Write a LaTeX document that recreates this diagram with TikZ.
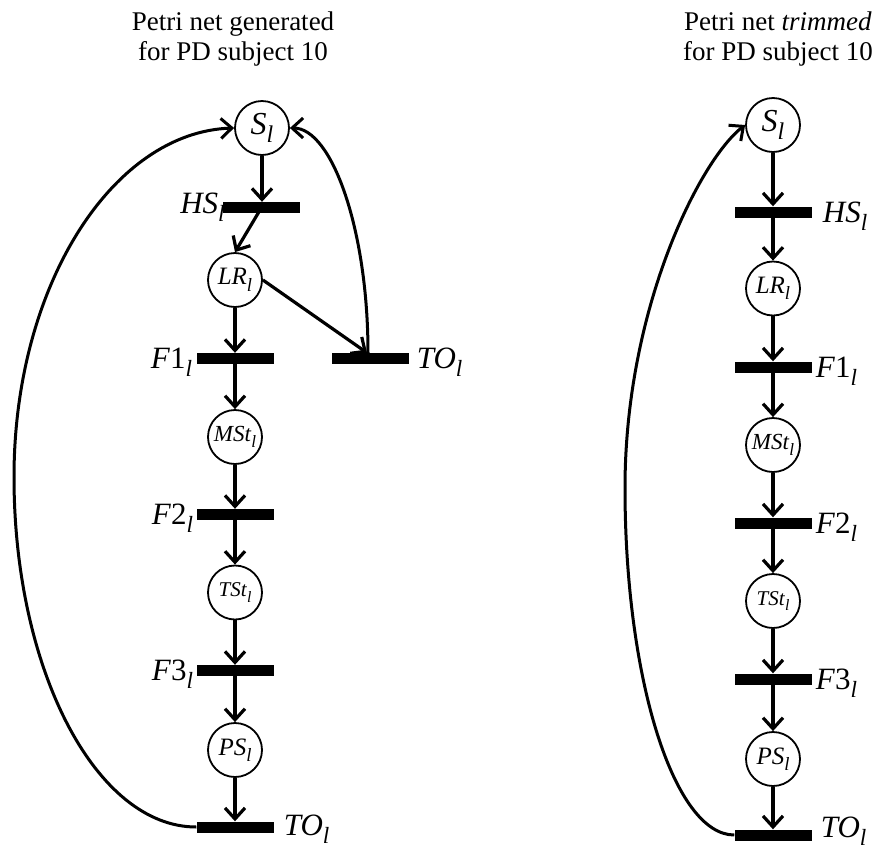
\documentclass[tikz,border=0pt]{standalone}
\usepackage{fontspec}
\usepackage{graphicx}
\setmainfont{Liberation Serif}
\usetikzlibrary{arrows.meta,calc}

% italic subscript l used in every label
\newcommand{\lsub}{\raisebox{-0.26em}{\scalebox{0.75}{\itshape l}}}

\tikzset{
  place/.style={circle, draw, line width=1.8pt, minimum size=54pt, inner sep=0pt},
  tbar/.style={rectangle, fill=black, minimum width=77pt, minimum height=11pt, inner sep=0pt},
  arc/.style={line width=3.2pt, -{Straight Barb[length=11pt,width=20pt]}},
  loop/.style={line width=3pt, -{Straight Barb[length=11pt,width=20pt]}},
  tlabel/.style={font=\fontsize{31}{32}\selectfont, inner sep=0pt},
  title/.style={font=\fontsize{27}{30}\selectfont, align=center, inner sep=0pt},
}

\begin{document}
\begin{tikzpicture}[x=1pt, y=-1pt]
\useasboundingbox (0,0) rectangle (879,852);

% ---------- headings ----------
\node[title, anchor=base] (t1) at (233,60) {Petri net generated\\for PD subject 10};
\node[title, anchor=base] (t2) at (778,60) {Petri net \textit{trimmed}\\for PD subject 10};

% ---------- generated net ----------
\node[place, font=\fontsize{32}{32}\selectfont] (S1) at (262,128) {\textit{S}\lsub};
\node[tbar] (HS1) at (261.5,207.5) {};
\node[place, font=\fontsize{25}{25}\selectfont] (LR1) at (235,280) {\textit{LR}\lsub};
\node[tbar] (F1a) at (235,358.5) {};
\node[tbar] (TOa) at (370,358.5) {};
\node[place, font=\fontsize{23}{23}\selectfont] (MS1) at (235,437) {\textit{MSt}\lsub};
\node[tbar] (F2a) at (235,514.5) {};
\node[place, font=\fontsize{21}{21}\selectfont] (TS1) at (235,592.5) {\textit{TSt}\lsub};
\node[tbar] (F3a) at (235,670.5) {};
\node[place, font=\fontsize{25}{25}\selectfont] (PS1) at (235,750) {\textit{PS}\lsub};
\node[tbar] (TO1) at (235,827) {};

\node[tlabel, anchor=base east] (lHS1) at ($(HS1.west)+(2,6)$) {\textit{HS}\lsub};
\node[tlabel, anchor=base east] (lF1a) at ($(F1a.west)+(-4,10)$) {\textit{F}1\lsub};
\node[tlabel, anchor=base west] (lTOa) at ($(TOa.east)+(8,10)$) {\textit{TO}\lsub};
\node[tlabel, anchor=base east] (lF2a) at ($(F2a.west)+(-3,10)$) {\textit{F}2\lsub};
\node[tlabel, anchor=base east] (lF3a) at ($(F3a.west)+(-3,10)$) {\textit{F}3\lsub};
\node[tlabel, anchor=base west] (lTO1) at ($(TO1.east)+(10,8)$) {\textit{TO}\lsub};

\draw[arc] (S1.south) -- (S1.south |- HS1.north);
\draw[arc] (HS1.center) -- (LR1.north);
\draw[arc] (LR1.south) -- (F1a.north);
\draw[arc] (LR1.east) -- ([xshift=-3pt]TOa.north);
\draw[arc] (F1a.center) -- (MS1.north);
\draw[arc] (MS1.south) -- (F2a.north);
\draw[arc] (F2a.center) -- (TS1.north);
\draw[arc] (TS1.south) -- (F3a.north);
\draw[arc] (F3a.center) -- (PS1.north);
\draw[arc] (PS1.south) -- (TO1.north);

\coordinate (lb) at (14,477);
\draw[loop] (TO1.west) .. controls (96,827) and (14,670) .. (lb)
            .. controls (14,285) and (113,132) .. (S1.west);
\draw[loop] ([xshift=-2pt]TOa.north) .. controls (368,230) and (332,128) .. (S1.east);

% ---------- trimmed net ----------
\node[place, font=\fontsize{32}{32}\selectfont] (S2) at (773,125) {\textit{S}\lsub};
\node[tbar] (HS2) at (773,212) {};
\node[place, font=\fontsize{25}{25}\selectfont] (LR2) at (773,288.5) {\textit{LR}\lsub};
\node[tbar] (F1b) at (773,367) {};
\node[place, font=\fontsize{23}{23}\selectfont] (MS2) at (773,445) {\textit{MSt}\lsub};
\node[tbar] (F2b) at (773,523) {};
\node[place, font=\fontsize{21}{21}\selectfont] (TS2) at (773,601) {\textit{TSt}\lsub};
\node[tbar] (F3b) at (773,679) {};
\node[place, font=\fontsize{25}{25}\selectfont] (PS2) at (773,759) {\textit{PS}\lsub};
\node[tbar] (TO2) at (773,835) {};

\node[tlabel, anchor=base west] (lHS2) at ($(HS2.east)+(11,10)$) {\textit{HS}\lsub};
\node[tlabel, anchor=base west] (lF1b) at ($(F1b.east)+(4,10)$) {\textit{F}1\lsub};
\node[tlabel, anchor=base west] (lF2b) at ($(F2b.east)+(4,10)$) {\textit{F}2\lsub};
\node[tlabel, anchor=base west] (lF3b) at ($(F3b.east)+(4,10)$) {\textit{F}3\lsub};
\node[tlabel, anchor=base west] (lTO2) at ($(TO2.east)+(9,2)$) {\textit{TO}\lsub};

\draw[arc] (S2.south) -- (HS2.north);
\draw[arc] (HS2.center) -- (LR2.north);
\draw[arc] (LR2.south) -- (F1b.north);
\draw[arc] (F1b.center) -- (MS2.north);
\draw[arc] (MS2.south) -- (F2b.north);
\draw[arc] (F2b.center) -- (TS2.north);
\draw[arc] (TS2.south) -- (F3b.north);
\draw[arc] (F3b.center) -- (PS2.north);
\draw[arc] (PS2.south) -- (TO2.north);

\coordinate (rb) at (625,488);
\draw[loop] (TO2.west) .. controls (674,835) and (625,679) .. (rb)
            .. controls (625,308) and (700,160) .. (S2.west);
\end{tikzpicture}
\end{document}
